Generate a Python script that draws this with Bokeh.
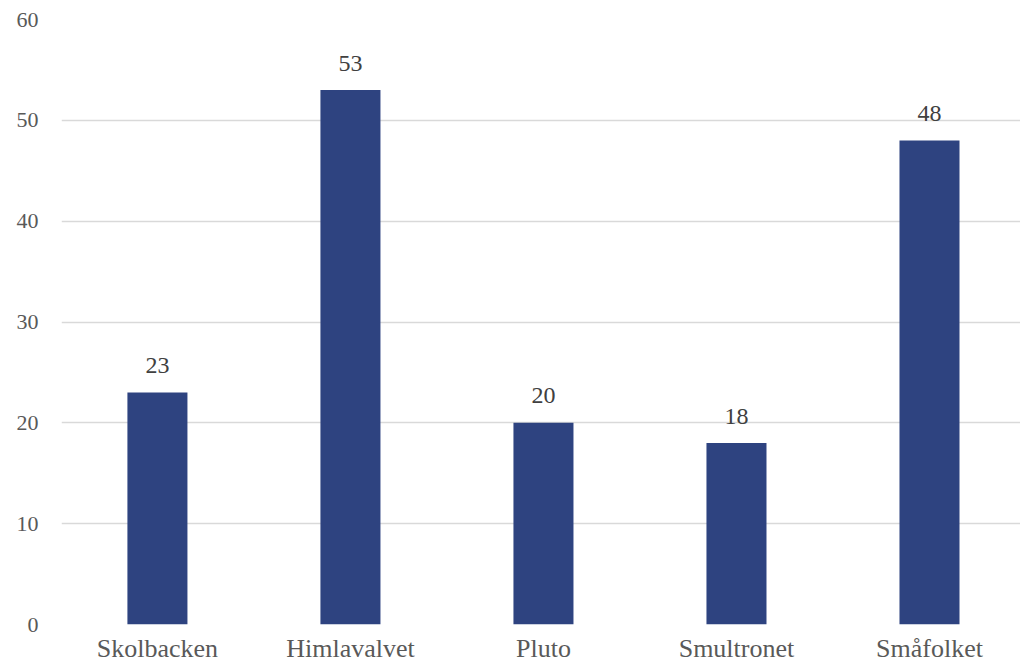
from bokeh.plotting import figure
from bokeh.models import ColumnDataSource, Range1d, FixedTicker
from bokeh.embed import file_html
from bokeh.resources import INLINE

categories = ["Skolbacken", "Himlavalvet", "Pluto", "Smultronet", "Småfolket"]
values = [23, 53, 20, 18, 48]
y_ticks = [0, 10, 20, 30, 40, 50, 60]

FONT = "Liberation Serif"
BAR = "#2E4380"

xs = list(range(len(categories)))
src = ColumnDataSource(dict(x=xs, v=values, lbl=[str(v) for v in values]))

p = figure(width=1020, height=665, output_backend="svg", toolbar_location=None,
           x_range=Range1d(-0.497, 4.4715), y_range=Range1d(0, 60),
           min_border_left=61, min_border_right=0, min_border_top=19, min_border_bottom=41)
p.outline_line_color = None
p.background_fill_color = "white"
p.border_fill_color = "white"

p.vbar(x="x", top="v", width=0.311, bottom=0, source=src, color=BAR, line_color=None)
p.text(x="x", y="v", text="lbl", source=src, text_align="center", text_baseline="alphabetic",
       y_offset=-27, text_font_size="24px", text_color="#404040", text_font={"value": FONT})

p.xgrid.grid_line_color = None
p.ygrid.grid_line_color = "#d9d9d9"
p.ygrid.grid_line_width = 1.5
p.ygrid.ticker = FixedTicker(ticks=y_ticks)

p.yaxis.ticker = FixedTicker(ticks=y_ticks)
p.xaxis.ticker = FixedTicker(ticks=xs)
p.xaxis.major_label_overrides = {i: c for i, c in enumerate(categories)}
for ax in (p.xaxis[0], p.yaxis[0]):
    ax.axis_line_color = None
    ax.major_tick_line_color = None
    ax.minor_tick_line_color = None
    ax.major_tick_in = 0
    ax.major_tick_out = 0
    ax.major_label_text_font = FONT
    ax.major_label_text_color = "#595959"
p.yaxis.major_label_text_font_size = "22px"
p.xaxis.major_label_text_font_size = "26px"
p.yaxis.major_label_standoff = 23
p.xaxis.major_label_standoff = 9

open("out.html", "w").write(file_html(p, INLINE))
